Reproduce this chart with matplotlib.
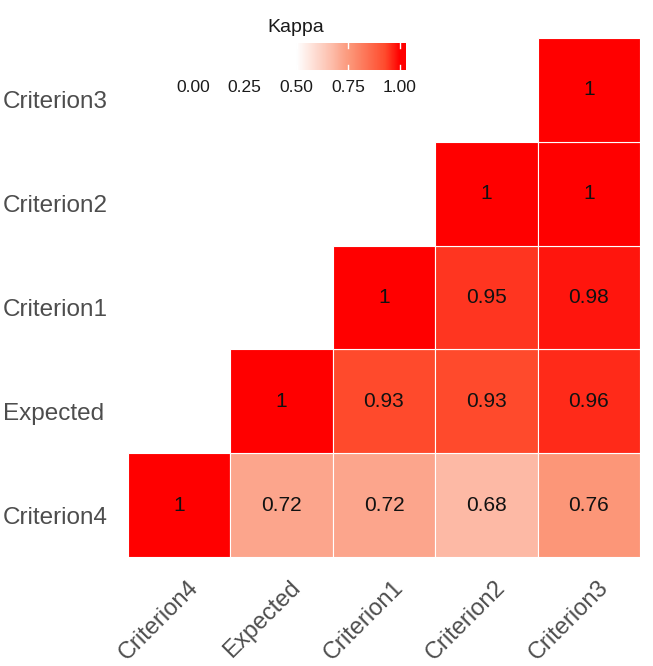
import numpy as np
import matplotlib
matplotlib.use('Agg')
import matplotlib.pyplot as plt
import matplotlib.transforms as mtransforms
from matplotlib.colors import LinearSegmentedColormap, Normalize

plt.rcParams['font.family'] = ['Liberation Sans', 'DejaVu Sans']

# Column/row order as in the picture (rows listed bottom to top)
labels = ['Criterion4', 'Expected', 'Criterion1', 'Criterion2', 'Criterion3']
kappa = np.array([
    [1.00, 0.72, 0.72, 0.68, 0.76],      # Criterion4
    [np.nan, 1.00, 0.93, 0.93, 0.96],    # Expected
    [np.nan, np.nan, 1.00, 0.95, 0.98],  # Criterion1
    [np.nan, np.nan, np.nan, 1.00, 1.00],  # Criterion2
    [np.nan, np.nan, np.nan, np.nan, 1.00],  # Criterion3
])
cbar_ticks = [0.00, 0.25, 0.50, 0.75, 1.00]

# white -> red ramp (looks Lab-interpolated), midpoint at 0.5
cmap = LinearSegmentedColormap.from_list('kappa', [
    (0.00, '#ffffff'),
    (0.36, '#fdb9a5'),
    (0.44, '#fca58c'),
    (0.52, '#fc9678'),
    (0.86, '#ff4b2d'),
    (1.00, '#ff0000'),
])
norm = Normalize(vmin=0.5, vmax=1.0)

W, H = 653, 666
fig = plt.figure(figsize=(W / 100, H / 100), dpi=100)
ax = fig.add_axes([128 / W, 1 - 557 / H, (640 - 128) / W, (557 - 38) / H])

n = len(labels)
for i in range(n):
    for j in range(n):
        v = kappa[i, j]
        if np.isnan(v):
            continue
        ax.add_patch(plt.Rectangle((j - 0.5, i - 0.5), 1, 1, facecolor=cmap(norm(v)),
                                   edgecolor='white', linewidth=0.8))
        txt = '1' if v == 1 else f'{v:.2f}'.rstrip('0')
        ax.text(j, i, txt, ha='center', va='center', fontsize=15, color='#111111')

ax.set_xlim(-0.5, n - 0.5)
ax.set_ylim(-0.5, n - 0.5)
ax.set_xticks(range(n))
ax.set_yticks(range(n))
ax.set_xticklabels(labels, rotation=45, ha='right', va='top', rotation_mode='anchor',
                   fontsize=17, color='#4d4d4d')
ax.set_yticklabels(labels, fontsize=17.5, color='#4d4d4d', ha='left')
ax.tick_params(axis='x', length=0, pad=14)
ax.tick_params(axis='y', length=0, pad=90)
for s in ax.spines.values():
    s.set_visible(False)

# ggplot puts the labels a bit off the cell centres
for lab in ax.get_yticklabels():
    lab.set_transform(lab.get_transform() + mtransforms.ScaledTranslation(0, -0.10, fig.dpi_scale_trans))
for lab in ax.get_xticklabels():
    lab.set_transform(lab.get_transform() + mtransforms.ScaledTranslation(0.08, 0, fig.dpi_scale_trans))

# legend bar at top
cax = fig.add_axes([293 / W, 1 - 70 / H, (406 - 293) / W, (70 - 43) / H])
x0, x1 = (293 - 193) / 207, (406 - 193) / 207
grad = np.linspace(x0, x1, 300).reshape(1, -1)
cax.imshow(grad, aspect='auto', cmap=cmap, norm=norm, extent=[x0, x1, 0, 1])
cax.set_xlim(x0, x1)
cax.set_ylim(0, 1)
for t in cbar_ticks:
    if x0 <= t <= x1:
        cax.plot([t, t], [0, 0.2], color='white', lw=1)
        cax.plot([t, t], [0.8, 1], color='white', lw=1)
    cax.text(t, (70 - 88) / 27, f'{t:.2f}', ha='center', va='center', fontsize=12.5,
             color='#1a1a1a', clip_on=False)
cax.axis('off')
fig.text(267 / W, 1 - 32 / H, 'Kappa', ha='left', va='baseline', fontsize=14, color='#1a1a1a')

fig.savefig('out.png', dpi=100)
